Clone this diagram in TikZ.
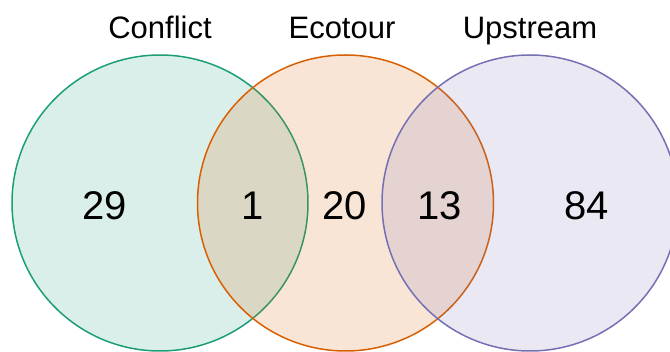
\documentclass[tikz,border=0pt]{standalone}
\usepackage{fontspec}
\setmainfont{Liberation Sans}
\definecolor{cgreen}{HTML}{1B9E77}
\definecolor{corange}{HTML}{D95F02}
\definecolor{cpurple}{HTML}{7570B3}
\begin{document}
\begin{tikzpicture}[x=1pt,y=-1pt,
  setcircle/.style={circle, minimum size=296pt, inner sep=0pt, line width=1.5pt, fill opacity=0.16, text opacity=1},
  setname/.style={font=\fontsize{31}{31}\selectfont, text=black, anchor=base, inner sep=0pt},
  count/.style={font=\fontsize{40}{40}\selectfont, text=black, anchor=base, inner sep=0pt}]
\useasboundingbox (0,0) rectangle (670,352);
\clip (0,0) rectangle (670,352);
% the three sets
\node[setcircle, draw=cgreen, fill=cgreen] (conflict) at (160,203) {};
\node[setcircle, draw=corange, fill=corange] (ecotour) at (345.5,203) {};
\node[setcircle, draw=cpurple, fill=cpurple] (upstream) at (530,203) {};
% set names, on a common baseline
\node[setname] (lconflict) at (160,39) {Conflict};
\node[setname] (lecotour) at (342,39) {Ecotour};
\node[setname] (lupstream) at (530,39) {Upstream};
% region counts, on a common baseline
\node[count] (n1) at (105,220) {29};
\node[count] (n2) at (253,220) {1};
\node[count] (n3) at (345,220) {20};
\node[count] (n4) at (440,220) {13};
\node[count] (n5) at (587,220) {84};
\end{tikzpicture}
\end{document}
